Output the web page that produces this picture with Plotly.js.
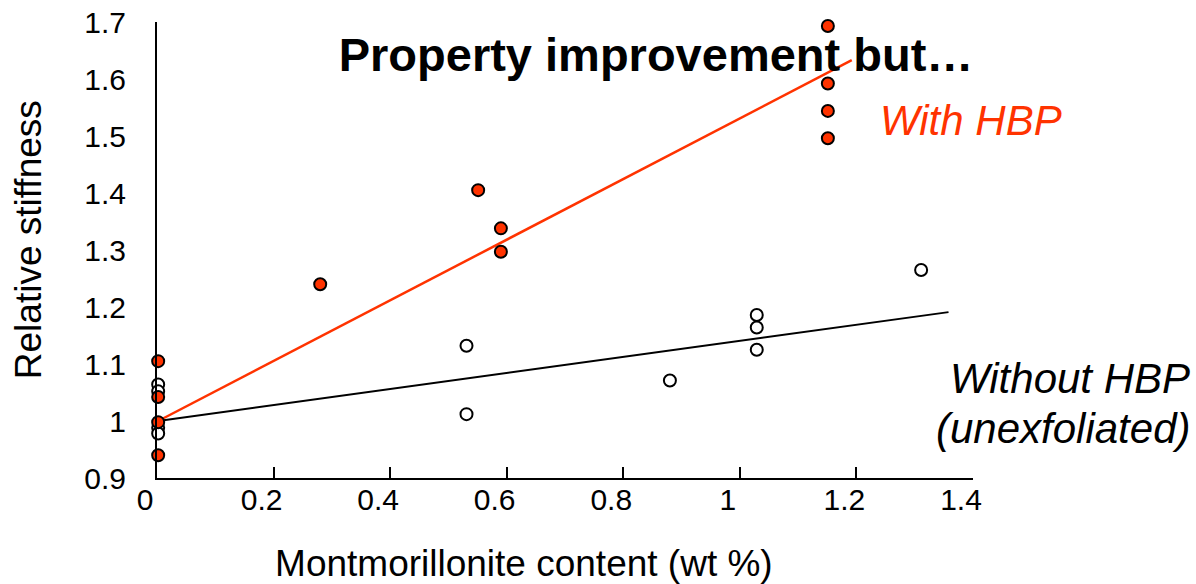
<!DOCTYPE html>
<html><head><meta charset="utf-8">
<script src="https://cdn.plot.ly/plotly-3.0.1.min.js"></script>
<style>html,body{margin:0;padding:0;background:#fff}</style>
</head><body><div id="chart" style="width:1196px;height:584px"></div>
<script>
// With HBP (filled red)
const hbpX = [0.002, 0.002, 0.002, 0.002, 0.28, 0.551, 0.59, 0.59, 1.151, 1.151, 1.151, 1.151];
const hbpY = [1.105, 1.042, 0.998, 0.94, 1.24, 1.405, 1.338, 1.297, 1.693, 1.592, 1.544, 1.496];
// Without HBP (open)
const noX = [0.002, 0.002, 0.002, 0.002, 0.531, 0.531, 0.88, 1.029, 1.029, 1.029, 1.311];
const noY = [1.064, 1.052, 0.988, 0.978, 1.132, 1.012, 1.071, 1.186, 1.164, 1.125, 1.265];
// Fit lines
const fitHbpX = [0.002, 1.192];
const fitHbpY = [1.0, 1.633];
const fitNoX = [0.002, 1.358];
const fitNoY = [1.0, 1.191];
// Ticks
const xTickVals = [0, 0.2, 0.4, 0.6, 0.8, 1, 1.2, 1.4];
const xTickText = ["0", "0.2", "0.4", "0.6", "0.8", "1", "1.2", "1.4"];
const yTickVals = [0.9, 1.0, 1.1, 1.2, 1.3, 1.4, 1.5, 1.6, 1.7];
const yTickText = ["0.9", "1", "1.1", "1.2", "1.3", "1.4", "1.5", "1.6", "1.7"];

const RED = "#ff3300";
const FONT = "Liberation Sans, Arial, sans-serif";
const NB = "\u00A0";
const ZW = "\u200B";

const traces = [
  {x: fitNoX, y: fitNoY, mode: "lines", line: {color: "#000", width: 2}, hoverinfo: "skip", cliponaxis: false},
  {x: fitHbpX, y: fitHbpY, mode: "lines", line: {color: RED, width: 2.5}, hoverinfo: "skip", cliponaxis: false},
  {x: noX, y: noY, mode: "markers", cliponaxis: false,
   marker: {symbol: "circle", size: 12, color: "#fff", line: {color: "#000", width: 2}}},
  {x: hbpX, y: hbpY, mode: "markers", cliponaxis: false,
   marker: {symbol: "circle", size: 12, color: RED, line: {color: "#000", width: 2}}}
];

const layout = {
  width: 1196, height: 584,
  paper_bgcolor: "#fff", plot_bgcolor: "#fff",
  showlegend: false,
  margin: {l: 157, r: 223, t: 22, b: 106},
  font: {family: FONT, color: "#000"},
  title: {text: "<b>Property improvement but…</b>", x: 656/1196, xanchor: "center",
          y: 1 - 55/584, yanchor: "middle", font: {family: FONT, size: 47, color: "#000"}},
  xaxis: {range: [0, 1.4], tickvals: xTickVals, ticktext: xTickText,
          showgrid: false, zeroline: false, showline: true, linecolor: "#000", linewidth: 2,
          ticks: "inside", ticklen: 11, tickwidth: 2, tickcolor: "#000",
          tickfont: {size: 30, family: FONT}, ticklabelstandoff: -6, ticklabelshift: -12,
          title: {text: "Montmorillonite content (wt %)" + NB.repeat(8) + ZW, font: {size: 37, family: FONT}, standoff: 38}},
  yaxis: {range: [0.9, 1.7], tickvals: yTickVals, ticktext: yTickText,
          showgrid: false, zeroline: false, showline: true, linecolor: "#000", linewidth: 2,
          ticks: "", tickfont: {size: 30, family: FONT}, ticklabelstandoff: 23,
          title: {text: ZW + NB.repeat(2) + "Relative stiffness", font: {size: 37, family: FONT}, standoff: 31}},
  annotations: [
    {xref: "paper", yref: "paper", x: (878-157)/816, y: (478-120)/456, xanchor: "left", yanchor: "middle",
     text: "<i>With HBP</i>", showarrow: false, font: {size: 42, color: RED, family: FONT}},
    {xref: "paper", yref: "paper", x: (1192-157)/816, y: (478-378)/456, xanchor: "right", yanchor: "middle",
     text: "<i>Without HBP</i>", showarrow: false, font: {size: 42, color: "#000", family: FONT}},
    {xref: "paper", yref: "paper", x: (1192-157)/816, y: (478-428)/456, xanchor: "right", yanchor: "middle",
     text: "<i>(unexfoliated)</i>", showarrow: false, font: {size: 42, color: "#000", family: FONT}}
  ]
};

Plotly.newPlot("chart", traces, layout, {displayModeBar: false, staticPlot: true});
</script></body></html>
